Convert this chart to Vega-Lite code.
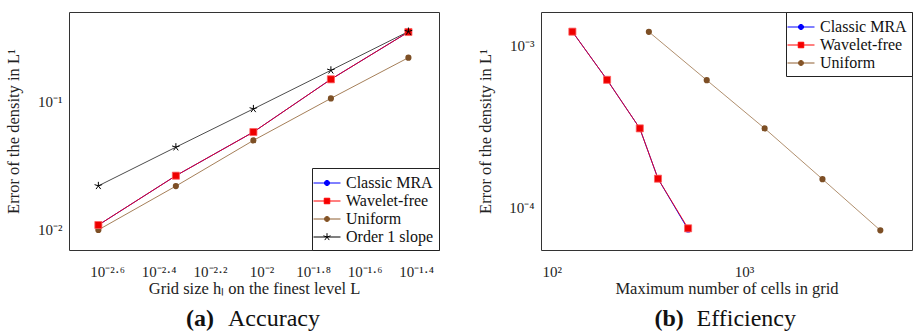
{
  "$schema": "https://vega.github.io/schema/vega-lite/v6.json",
  "background": "white",
  "padding": {"left": 4, "right": 0, "top": 11, "bottom": 0},
  "spacing": 36,
  "resolve": {
    "scale": {"color": "independent", "fill": "independent", "strokeOpacity": "independent"},
    "legend": {"color": "independent"}
  },
  "config": {
    "font": "Liberation Serif",
    "view": {"stroke": "#333", "strokeWidth": 1},
    "axis": {
      "labelFont": "Liberation Serif", "labelFontSize": 15, "labelColor": "#222",
      "titleFont": "Liberation Serif", "titleFontSize": 16.5, "titleFontWeight": "normal", "titleColor": "#222",
      "domain": false, "grid": false, "tickColor": "#888", "tickSize": 0, "tickWidth": 1,
      "labelOverlap": false, "labelFlush": false
    }
  },
  "datasets": {
    "acc": [
      {"method": "Classic MRA", "h": 0.002325, "err": 0.0108},
      {"method": "Classic MRA", "h": 0.00465, "err": 0.0263},
      {"method": "Classic MRA", "h": 0.0093, "err": 0.0578},
      {"method": "Classic MRA", "h": 0.0186, "err": 0.1496},
      {"method": "Classic MRA", "h": 0.0372, "err": 0.351},
      {"method": "Wavelet-free", "h": 0.002325, "err": 0.0108},
      {"method": "Wavelet-free", "h": 0.00465, "err": 0.0263},
      {"method": "Wavelet-free", "h": 0.0093, "err": 0.0578},
      {"method": "Wavelet-free", "h": 0.0186, "err": 0.1496},
      {"method": "Wavelet-free", "h": 0.0372, "err": 0.351},
      {"method": "Uniform", "h": 0.002325, "err": 0.0099},
      {"method": "Uniform", "h": 0.00465, "err": 0.0218},
      {"method": "Uniform", "h": 0.0093, "err": 0.0497},
      {"method": "Uniform", "h": 0.0186, "err": 0.106},
      {"method": "Uniform", "h": 0.0372, "err": 0.221},
      {"method": "Order 1 slope", "h": 0.002325, "err": 0.0219},
      {"method": "Order 1 slope", "h": 0.00465, "err": 0.044},
      {"method": "Order 1 slope", "h": 0.0093, "err": 0.0877},
      {"method": "Order 1 slope", "h": 0.0186, "err": 0.176},
      {"method": "Order 1 slope", "h": 0.0372, "err": 0.354}
    ],
    "eff": [
      {"method": "Classic MRA", "cells": 128, "err": 0.001213},
      {"method": "Classic MRA", "cells": 194, "err": 0.000613},
      {"method": "Classic MRA", "cells": 287, "err": 0.000308},
      {"method": "Classic MRA", "cells": 357, "err": 0.000151},
      {"method": "Classic MRA", "cells": 512, "err": 0.0000735},
      {"method": "Wavelet-free", "cells": 128, "err": 0.001213},
      {"method": "Wavelet-free", "cells": 194, "err": 0.000613},
      {"method": "Wavelet-free", "cells": 287, "err": 0.000308},
      {"method": "Wavelet-free", "cells": 357, "err": 0.000151},
      {"method": "Wavelet-free", "cells": 512, "err": 0.0000747},
      {"method": "Uniform", "cells": 320, "err": 0.00121},
      {"method": "Uniform", "cells": 640, "err": 0.00061},
      {"method": "Uniform", "cells": 1280, "err": 0.000308},
      {"method": "Uniform", "cells": 2560, "err": 0.00015},
      {"method": "Uniform", "cells": 5120, "err": 0.0000726}
    ]
  },
  "hconcat": [
    {
      "width": 370, "height": 238,
      "data": {"name": "acc"},
      "title": {
        "text": "(a)", "subtitle": "\u200b\u00a0\u00a0\u00a0\u00a0\u00a0\u00a0\u00a0Accuracy",
        "orient": "bottom", "anchor": "middle", "align": "left", "frame": "group",
        "dx": -68, "offset": 10,
        "font": "Liberation Serif", "fontSize": 24, "fontWeight": "bold", "color": "#111",
        "subtitleFont": "Liberation Serif", "subtitleFontSize": 24, "subtitleFontWeight": "normal", "subtitleColor": "#111",
        "subtitlePadding": -24
      },
      "resolve": {"axis": {"x": "independent", "y": "independent"}},
      "layer": [
        {
          "mark": {"type": "line", "strokeWidth": 1},
          "encoding": {
            "x": {"field": "h", "type": "quantitative",
              "scale": {"type": "log", "domain": [0.001788, 0.0489], "nice": false},
              "axis": {"orient": "bottom", "title": "Grid size hₗ on the finest level L", "titlePadding": 1,
                "values": [0.0025119, 0.0039811, 0.0063096, 0.01, 0.015849, 0.025119, 0.039811],
                "labelPadding": 14,
                "labelExpr": "round(log(datum.value)/LN10*10) == -26 ? '10⁻²·⁶' : round(log(datum.value)/LN10*10) == -24 ? '10⁻²·⁴' : round(log(datum.value)/LN10*10) == -22 ? '10⁻²·²' : round(log(datum.value)/LN10*10) == -20 ? '10⁻²' : round(log(datum.value)/LN10*10) == -18 ? '10⁻¹·⁸' : round(log(datum.value)/LN10*10) == -16 ? '10⁻¹·⁶' : '10⁻¹·⁴'",
                "encode": {"ticks": {"update": {"y2": {"value": -6}}}}}},
            "y": {"field": "err", "type": "quantitative",
              "scale": {"type": "log", "domain": [0.006887, 0.5035], "nice": false},
              "axis": {"orient": "left", "title": "Error of the density in L¹", "titlePadding": 10,
                "minExtent": 38, "maxExtent": 38, "labelPadding": 7,
                "values": [0.007, 0.008, 0.009, 0.01, 0.02, 0.03, 0.04, 0.05, 0.06, 0.07, 0.08, 0.09, 0.1, 0.2, 0.3, 0.4],
                "labelExpr": "abs(datum.value/0.1-1)<0.001 ? '10⁻¹' : abs(datum.value/0.01-1)<0.001 ? '10⁻²' : ''",
                "encode": {"ticks": {"update": {"x2": {"signal": "abs(log(datum.value)/LN10 - round(log(datum.value)/LN10)) < 0.001 ? 6 : 3"}}}}}},
            "color": {"field": "method", "type": "nominal",
              "scale": {"domain": ["Classic MRA", "Wavelet-free", "Uniform", "Order 1 slope"], "range": ["#0000ff", "#ff0000", "#8f5f30", "#000000"]},
              "legend": {
                "title": null, "orient": "bottom-right", "offset": 0, "padding": 5,
                "strokeColor": "#222", "fillColor": "white",
                "labelFont": "Liberation Serif", "labelFontSize": 16, "labelColor": "#111",
                "symbolSize": 361, "symbolStrokeWidth": 1, "labelOffset": 9, "rowPadding": 0,
                "encode": {"symbols": {"update": {
                  "shape": {"signal": "datum.value === 'Classic MRA' || datum.value === 'Uniform' ? 'M-1.42,0H1.42M0.27,0A0.27,0.27 0 1,1 -0.27,0A0.27,0.27 0 1,1 0.27,0Z' : datum.value === 'Wavelet-free' ? 'M-1.42,0H1.42M-0.29,-0.29H0.29V0.29H-0.29Z' : 'M-1.42,0H1.42M0,0V-0.4M0,0L0.38,-0.124M0,0L0.235,0.324M0,0L-0.235,0.324M0,0L-0.38,-0.124'"},
                  "fill": {"signal": "datum.value === 'Classic MRA' ? '#0000ff' : datum.value === 'Wavelet-free' ? '#ee0000' : datum.value === 'Uniform' ? '#7d4f25' : 'transparent'"},
                  "stroke": {"signal": "datum.value === 'Classic MRA' ? '#0000ff' : datum.value === 'Wavelet-free' ? '#ff6060' : datum.value === 'Uniform' ? '#8f5f30' : '#000000'"},
                  "opacity": {"value": 1}
                }}}
              }},
            "strokeOpacity": {"field": "method", "type": "nominal",
              "scale": {"domain": ["Classic MRA", "Wavelet-free", "Uniform", "Order 1 slope"], "range": [1, 0.7, 1, 1]},
              "legend": null}
          }
        },
        {
          "transform": [{"filter": {"field": "method", "oneOf": ["Classic MRA", "Uniform"]}}],
          "mark": {"type": "point", "shape": "circle", "filled": true, "size": 38, "opacity": 1},
          "encoding": {
            "x": {"field": "h", "type": "quantitative", "scale": {"type": "log", "domain": [0.001788, 0.0489], "nice": false}, "axis": null},
            "y": {"field": "err", "type": "quantitative", "scale": {"type": "log", "domain": [0.006887, 0.5035], "nice": false}, "axis": null},
            "fill": {"field": "method", "type": "nominal", "scale": {"domain": ["Classic MRA", "Uniform"], "range": ["#0000ff", "#7d4f25"]}, "legend": null}
          }
        },
        {
          "transform": [{"filter": {"field": "method", "equal": "Wavelet-free"}}],
          "mark": {"type": "point", "shape": "square", "filled": true, "size": 50, "color": "#ee0000", "stroke": "#ff6060", "strokeWidth": 0.8, "opacity": 1},
          "encoding": {
            "x": {"field": "h", "type": "quantitative", "scale": {"type": "log", "domain": [0.001788, 0.0489], "nice": false}, "axis": null},
            "y": {"field": "err", "type": "quantitative", "scale": {"type": "log", "domain": [0.006887, 0.5035], "nice": false}, "axis": null}
          }
        },
        {
          "transform": [{"filter": {"field": "method", "equal": "Order 1 slope"}}],
          "mark": {"type": "point", "shape": "M0,0L0,-1M0,0L0.951,-0.309M0,0L0.588,0.809M0,0L-0.588,0.809M0,0L-0.951,-0.309", "filled": false, "size": 64, "stroke": "#000000", "strokeWidth": 1, "opacity": 1},
          "encoding": {
            "x": {"field": "h", "type": "quantitative", "scale": {"type": "log", "domain": [0.001788, 0.0489], "nice": false},
              "axis": {"orient": "top", "labels": false, "title": null,
                "values": [0.0025119, 0.0039811, 0.0063096, 0.01, 0.015849, 0.025119, 0.039811],
                "encode": {"ticks": {"update": {"y2": {"value": 6}}}}}},
            "y": {"field": "err", "type": "quantitative", "scale": {"type": "log", "domain": [0.006887, 0.5035], "nice": false},
              "axis": {"orient": "right", "labels": false, "title": null,
                "values": [0.007, 0.008, 0.009, 0.01, 0.02, 0.03, 0.04, 0.05, 0.06, 0.07, 0.08, 0.09, 0.1, 0.2, 0.3, 0.4],
                "encode": {"ticks": {"update": {"x2": {"signal": "abs(log(datum.value)/LN10 - round(log(datum.value)/LN10)) < 0.001 ? -6 : -3"}}}}}}
          }
        }
      ]
    },
    {
      "width": 371, "height": 238,
      "data": {"name": "eff"},
      "title": {
        "text": "(b)", "subtitle": "\u200b\u00a0\u00a0\u00a0\u00a0\u00a0\u00a0\u00a0Efficiency",
        "orient": "bottom", "anchor": "middle", "align": "left", "frame": "group",
        "dx": -72, "offset": 10,
        "font": "Liberation Serif", "fontSize": 24, "fontWeight": "bold", "color": "#111",
        "subtitleFont": "Liberation Serif", "subtitleFontSize": 24, "subtitleFontWeight": "normal", "subtitleColor": "#111",
        "subtitlePadding": -24
      },
      "resolve": {"axis": {"x": "independent", "y": "independent"}},
      "layer": [
        {
          "mark": {"type": "line", "strokeWidth": 1},
          "encoding": {
            "x": {"field": "cells", "type": "quantitative",
              "scale": {"type": "log", "domain": [87.9, 7482], "nice": false},
              "axis": {"orient": "bottom", "title": "Maximum number of cells in grid", "titlePadding": 1,
                "values": [90, 100, 200, 300, 400, 500, 600, 700, 800, 900, 1000, 2000, 3000, 4000, 5000, 6000, 7000],
                "labelPadding": 14,
                "labelExpr": "abs(datum.value-100)<1 ? '10²' : abs(datum.value-1000)<1 ? '10³' : ''",
                "encode": {"ticks": {"update": {"y2": {"signal": "abs(log(datum.value)/LN10 - round(log(datum.value)/LN10)) < 0.001 ? -6 : -3"}}}}}},
            "y": {"field": "err", "type": "quantitative",
              "scale": {"type": "log", "domain": [0.00005495, 0.001603], "nice": false},
              "axis": {"orient": "left", "title": "Error of the density in L¹", "titlePadding": 10,
                "minExtent": 38, "maxExtent": 38, "labelPadding": 7,
                "values": [0.00006, 0.00007, 0.00008, 0.00009, 0.0001, 0.0002, 0.0003, 0.0004, 0.0005, 0.0006, 0.0007, 0.0008, 0.0009, 0.001],
                "labelExpr": "abs(datum.value/0.001-1)<0.001 ? '10⁻³' : abs(datum.value/0.0001-1)<0.001 ? '10⁻⁴' : ''",
                "encode": {"ticks": {"update": {"x2": {"signal": "abs(log(datum.value)/LN10 - round(log(datum.value)/LN10)) < 0.001 ? 6 : 3"}}}}}},
            "color": {"field": "method", "type": "nominal",
              "scale": {"domain": ["Classic MRA", "Wavelet-free", "Uniform"], "range": ["#0000ff", "#ff0000", "#8f5f30"]},
              "legend": {
                "title": null, "orient": "top-right", "offset": 0, "padding": 5,
                "strokeColor": "#222", "fillColor": "white",
                "labelFont": "Liberation Serif", "labelFontSize": 16, "labelColor": "#111",
                "symbolSize": 361, "symbolStrokeWidth": 1, "labelOffset": 9, "rowPadding": 0,
                "encode": {"symbols": {"update": {
                  "shape": {"signal": "datum.value === 'Wavelet-free' ? 'M-1.42,0H1.42M-0.29,-0.29H0.29V0.29H-0.29Z' : 'M-1.42,0H1.42M0.27,0A0.27,0.27 0 1,1 -0.27,0A0.27,0.27 0 1,1 0.27,0Z'"},
                  "fill": {"signal": "datum.value === 'Classic MRA' ? '#0000ff' : datum.value === 'Wavelet-free' ? '#ee0000' : '#7d4f25'"},
                  "stroke": {"signal": "datum.value === 'Classic MRA' ? '#0000ff' : datum.value === 'Wavelet-free' ? '#ff6060' : '#8f5f30'"},
                  "opacity": {"value": 1}
                }}}
              }},
            "strokeOpacity": {"field": "method", "type": "nominal",
              "scale": {"domain": ["Classic MRA", "Wavelet-free", "Uniform"], "range": [1, 0.7, 1]},
              "legend": null}
          }
        },
        {
          "transform": [{"filter": {"field": "method", "oneOf": ["Classic MRA", "Uniform"]}}],
          "mark": {"type": "point", "shape": "circle", "filled": true, "size": 38, "opacity": 1},
          "encoding": {
            "x": {"field": "cells", "type": "quantitative", "scale": {"type": "log", "domain": [87.9, 7482], "nice": false}, "axis": null},
            "y": {"field": "err", "type": "quantitative", "scale": {"type": "log", "domain": [0.00005495, 0.001603], "nice": false}, "axis": null},
            "fill": {"field": "method", "type": "nominal", "scale": {"domain": ["Classic MRA", "Uniform"], "range": ["#0000ff", "#7d4f25"]}, "legend": null}
          }
        },
        {
          "transform": [{"filter": {"field": "method", "equal": "Wavelet-free"}}],
          "mark": {"type": "point", "shape": "square", "filled": true, "size": 50, "color": "#ee0000", "stroke": "#ff6060", "strokeWidth": 0.8, "opacity": 1},
          "encoding": {
            "x": {"field": "cells", "type": "quantitative", "scale": {"type": "log", "domain": [87.9, 7482], "nice": false},
              "axis": {"orient": "top", "labels": false, "title": null,
                "values": [90, 100, 200, 300, 400, 500, 600, 700, 800, 900, 1000, 2000, 3000, 4000, 5000, 6000, 7000],
                "encode": {"ticks": {"update": {"y2": {"signal": "abs(log(datum.value)/LN10 - round(log(datum.value)/LN10)) < 0.001 ? 6 : 3"}}}}}},
            "y": {"field": "err", "type": "quantitative", "scale": {"type": "log", "domain": [0.00005495, 0.001603], "nice": false},
              "axis": {"orient": "right", "labels": false, "title": null,
                "values": [0.00006, 0.00007, 0.00008, 0.00009, 0.0001, 0.0002, 0.0003, 0.0004, 0.0005, 0.0006, 0.0007, 0.0008, 0.0009, 0.001],
                "encode": {"ticks": {"update": {"x2": {"signal": "abs(log(datum.value)/LN10 - round(log(datum.value)/LN10)) < 0.001 ? -6 : -3"}}}}}}
          }
        }
      ]
    }
  ]
}
